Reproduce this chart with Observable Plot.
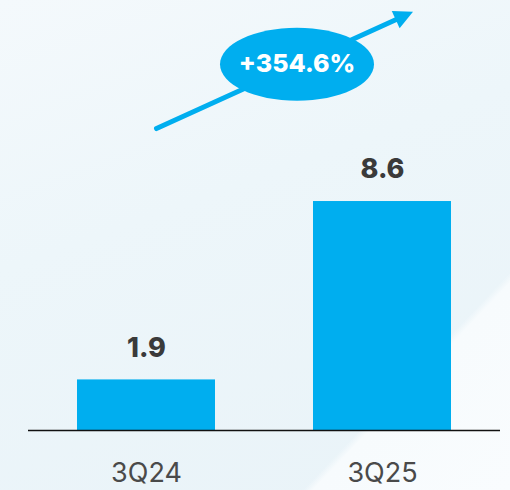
<!DOCTYPE html>
<html>
<head>
<meta charset="utf-8">
<script src="https://cdn.jsdelivr.net/npm/d3@7"></script>
<script src="https://cdn.jsdelivr.net/npm/@observablehq/plot@0.6"></script>
<style>
  html, body { margin: 0; padding: 0; }
  body {
    width: 510px; height: 490px; overflow: hidden; position: relative;
    background:
      linear-gradient(133.6deg, rgba(247,251,253,0) 0%, rgba(247,251,253,0) 78.8%, rgba(247,251,253,1) 79.8%, rgba(249,252,254,1) 100%),
      linear-gradient(160deg, #f4f9fc 0%, #edf6fa 40%, #e9f3f8 100%);
  }
  #chart { position: absolute; left: 0; top: 0; }
  #chart svg g[aria-label^="x-axis"] text { font-size: 27px; fill: #4a4a4a; font-weight: 400; }
</style>
</head>
<body>
<div id="chart"></div>
<script>
// Data
const quarters = ["3Q24", "3Q25"];
const values = [1.9, 8.6];
const growthLabel = "+354.6%";
// Annotation anchors (data units)
const arrowStart = { x: "3Q24", y: 11.34 };
const arrowEnd = { x: "3Q25", y: 15.37 };
const arrowTip = { x: "3Q25", y: 15.73 };
const badgeAnchor = { x: "3Q24", y: 13.76 };

const data = quarters.map((q, i) => ({ quarter: q, value: values[i] }));

const blue = "#00AEEF";

// ellipse symbol for the growth badge
const ellipseSymbol = {
  draw(ctx, size) {
    const ry = Math.sqrt(size / Math.PI);
    const rx = ry * 77 / 36.5;
    const k = 0.5523;
    ctx.moveTo(rx, 0);
    ctx.bezierCurveTo(rx, k * ry, k * rx, ry, 0, ry);
    ctx.bezierCurveTo(-k * rx, ry, -rx, k * ry, -rx, 0);
    ctx.bezierCurveTo(-rx, -k * ry, -k * rx, -ry, 0, -ry);
    ctx.bezierCurveTo(k * rx, -ry, rx, -k * ry, rx, 0);
    ctx.closePath();
  }
};

// arrowhead symbol with its tip at the origin, pointing up
const headSymbol = {
  draw(ctx, size) {
    const s = Math.sqrt(size / Math.PI);
    const L = s * 2.0, w = s;
    ctx.moveTo(0, 0);
    ctx.lineTo(-w, L);
    ctx.lineTo(w, L);
    ctx.closePath();
  }
};

const chart = Plot.plot({
  width: 510,
  height: 490,
  marginTop: 4,
  marginBottom: 60,
  marginLeft: 28,
  marginRight: 10,
  style: { background: "transparent", fontFamily: "Inter, 'Open Sans', sans-serif", overflow: "visible" },
  x: { domain: quarters, paddingInner: 0.4135, paddingOuter: 0.2026, label: null, tickSize: 0, tickPadding: 32 },
  y: { domain: [0, 16], axis: null },
  marks: [
    Plot.barY(data, { x: "quarter", y: "value", fill: blue }),
    Plot.ruleY([0], { stroke: "#111", strokeWidth: 1.5 }),
    Plot.text(data, {
      x: "quarter", y: "value", text: d => d.value.toFixed(1),
      dy: -32, fontSize: 27, fontWeight: 800, fill: "#3a3a3a"
    }),
    Plot.arrow([{ x1: arrowStart.x, y1: arrowStart.y, x2: arrowEnd.x, y2: arrowEnd.y }], {
      x1: "x1", y1: "y1", x2: "x2", y2: "y2",
      dx: 10, insetEnd: -12,
      stroke: blue, strokeWidth: 5, headLength: 0
    }),
    Plot.dot([arrowTip], {
      x: "x", y: "y", dx: 30.5, r: 9.5, symbol: headSymbol, rotate: 65.6,
      fill: blue, stroke: "none"
    }),
    Plot.dot([badgeAnchor], {
      x: "x", y: "y", dx: 150.5, r: 36.5, symbol: ellipseSymbol, fill: blue, stroke: "none"
    }),
    Plot.text([badgeAnchor], {
      x: "x", y: "y", dx: 150.5, text: () => growthLabel,
      fontSize: 25, fontWeight: 800, fill: "white"
    })
  ]
});

document.getElementById("chart").appendChild(chart);
</script>
</body>
</html>
